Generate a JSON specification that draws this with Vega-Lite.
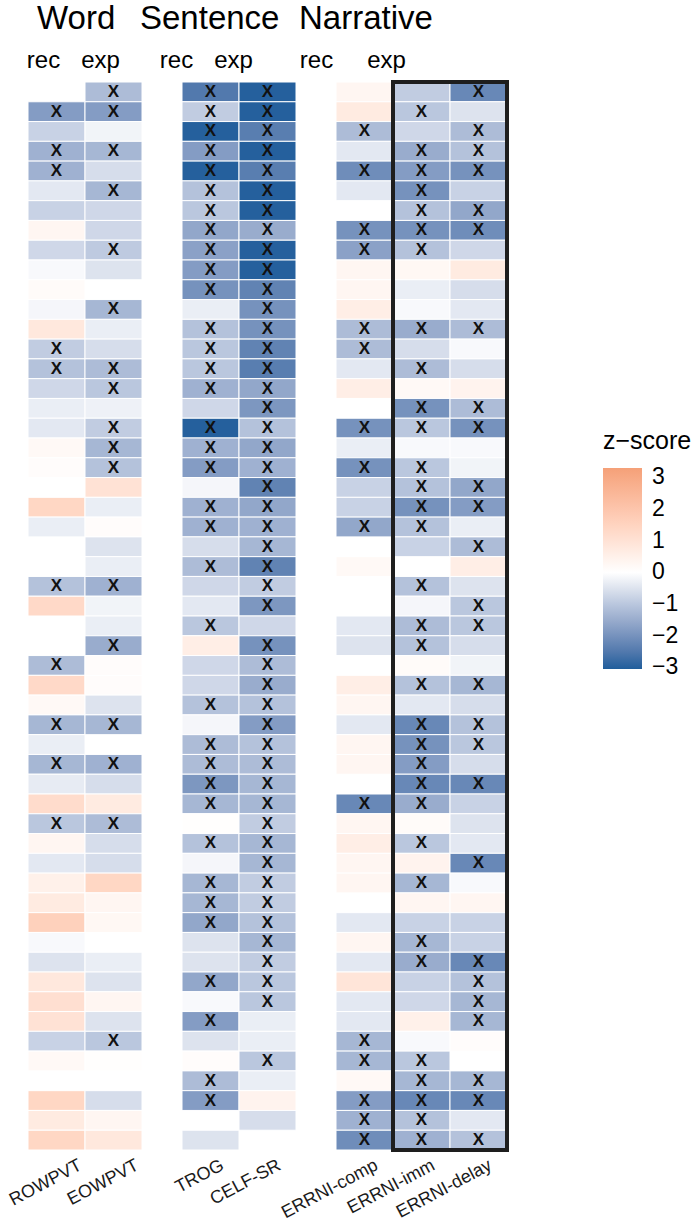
{
  "$schema": "https://vega.github.io/schema/vega-lite/v6.json",
  "background": "white",
  "padding": {"left": 6, "top": 3, "right": 0, "bottom": 0},
  "bounds": "flush",
  "config": {
    "view": {"stroke": null},
    "font": "Liberation Sans",
    "concat": {"spacing": 40}
  },
  "datasets": {
    "box": [{"from": "ERRNI-imm", "to": "ERRNI-delay"}],
    "cells": [
      {"id":1,"test":"EOWPVT","z":-1.2,"sig":1},{"id":1,"test":"TROG","z":-2.5,"sig":1},{"id":1,"test":"CELF-SR","z":-3.0,"sig":1},{"id":1,"test":"ERRNI-comp","z":0.3,"sig":0},{"id":1,"test":"ERRNI-imm","z":-0.9,"sig":0},{"id":1,"test":"ERRNI-delay","z":-2.2,"sig":1},
      {"id":2,"test":"ROWPVT","z":-1.8,"sig":1},{"id":2,"test":"EOWPVT","z":-1.8,"sig":1},{"id":2,"test":"TROG","z":-0.9,"sig":1},{"id":2,"test":"CELF-SR","z":-3.0,"sig":1},{"id":2,"test":"ERRNI-comp","z":0.7,"sig":0},{"id":2,"test":"ERRNI-imm","z":-1.0,"sig":1},{"id":2,"test":"ERRNI-delay","z":-0.5,"sig":0},
      {"id":3,"test":"ROWPVT","z":-0.8,"sig":0},{"id":3,"test":"EOWPVT","z":-0.2,"sig":0},{"id":3,"test":"TROG","z":-3.0,"sig":1},{"id":3,"test":"CELF-SR","z":-2.4,"sig":1},{"id":3,"test":"ERRNI-comp","z":-1.2,"sig":1},{"id":3,"test":"ERRNI-imm","z":-0.7,"sig":0},{"id":3,"test":"ERRNI-delay","z":-1.2,"sig":1},
      {"id":4,"test":"ROWPVT","z":-1.4,"sig":1},{"id":4,"test":"EOWPVT","z":-1.3,"sig":1},{"id":4,"test":"TROG","z":-1.8,"sig":1},{"id":4,"test":"CELF-SR","z":-3.0,"sig":1},{"id":4,"test":"ERRNI-comp","z":-0.4,"sig":0},{"id":4,"test":"ERRNI-imm","z":-1.5,"sig":1},{"id":4,"test":"ERRNI-delay","z":-1.1,"sig":1},
      {"id":5,"test":"ROWPVT","z":-1.4,"sig":1},{"id":5,"test":"EOWPVT","z":-0.6,"sig":0},{"id":5,"test":"TROG","z":-3.0,"sig":1},{"id":5,"test":"CELF-SR","z":-2.4,"sig":1},{"id":5,"test":"ERRNI-comp","z":-2.1,"sig":1},{"id":5,"test":"ERRNI-imm","z":-1.8,"sig":1},{"id":5,"test":"ERRNI-delay","z":-2.0,"sig":1},
      {"id":6,"test":"ROWPVT","z":-0.4,"sig":0},{"id":6,"test":"EOWPVT","z":-1.3,"sig":1},{"id":6,"test":"TROG","z":-1.1,"sig":1},{"id":6,"test":"CELF-SR","z":-3.0,"sig":1},{"id":6,"test":"ERRNI-comp","z":-0.4,"sig":0},{"id":6,"test":"ERRNI-imm","z":-2.0,"sig":1},{"id":6,"test":"ERRNI-delay","z":-0.8,"sig":0},
      {"id":7,"test":"ROWPVT","z":-0.8,"sig":0},{"id":7,"test":"EOWPVT","z":-0.7,"sig":0},{"id":7,"test":"TROG","z":-1.0,"sig":1},{"id":7,"test":"CELF-SR","z":-3.0,"sig":1},{"id":7,"test":"ERRNI-imm","z":-1.1,"sig":1},{"id":7,"test":"ERRNI-delay","z":-1.6,"sig":1},
      {"id":8,"test":"ROWPVT","z":0.3,"sig":0},{"id":8,"test":"EOWPVT","z":-0.7,"sig":0},{"id":8,"test":"TROG","z":-1.6,"sig":1},{"id":8,"test":"CELF-SR","z":-1.5,"sig":1},{"id":8,"test":"ERRNI-comp","z":-2.0,"sig":1},{"id":8,"test":"ERRNI-imm","z":-2.0,"sig":1},{"id":8,"test":"ERRNI-delay","z":-2.1,"sig":1},
      {"id":9,"test":"ROWPVT","z":-0.7,"sig":0},{"id":9,"test":"EOWPVT","z":-0.95,"sig":1},{"id":9,"test":"TROG","z":-1.7,"sig":1},{"id":9,"test":"CELF-SR","z":-3.0,"sig":1},{"id":9,"test":"ERRNI-comp","z":-1.7,"sig":1},{"id":9,"test":"ERRNI-imm","z":-1.1,"sig":1},{"id":9,"test":"ERRNI-delay","z":-0.7,"sig":0},
      {"id":10,"test":"ROWPVT","z":-0.1,"sig":0},{"id":10,"test":"EOWPVT","z":-0.5,"sig":0},{"id":10,"test":"TROG","z":-1.8,"sig":1},{"id":10,"test":"CELF-SR","z":-3.0,"sig":1},{"id":10,"test":"ERRNI-comp","z":0.3,"sig":0},{"id":10,"test":"ERRNI-imm","z":0.25,"sig":0},{"id":10,"test":"ERRNI-delay","z":0.7,"sig":0},
      {"id":11,"test":"ROWPVT","z":0.15,"sig":0},{"id":11,"test":"TROG","z":-2.0,"sig":1},{"id":11,"test":"CELF-SR","z":-2.3,"sig":1},{"id":11,"test":"ERRNI-comp","z":0.3,"sig":0},{"id":11,"test":"ERRNI-imm","z":-0.3,"sig":0},{"id":11,"test":"ERRNI-delay","z":-0.6,"sig":0},
      {"id":12,"test":"ROWPVT","z":-0.15,"sig":0},{"id":12,"test":"EOWPVT","z":-1.3,"sig":1},{"id":12,"test":"TROG","z":-0.3,"sig":0},{"id":12,"test":"CELF-SR","z":-2.0,"sig":1},{"id":12,"test":"ERRNI-comp","z":0.6,"sig":0},{"id":12,"test":"ERRNI-imm","z":-0.1,"sig":0},{"id":12,"test":"ERRNI-delay","z":-0.4,"sig":0},
      {"id":13,"test":"ROWPVT","z":0.8,"sig":0},{"id":13,"test":"EOWPVT","z":-0.3,"sig":0},{"id":13,"test":"TROG","z":-1.1,"sig":1},{"id":13,"test":"CELF-SR","z":-2.0,"sig":1},{"id":13,"test":"ERRNI-comp","z":-1.2,"sig":1},{"id":13,"test":"ERRNI-imm","z":-1.5,"sig":1},{"id":13,"test":"ERRNI-delay","z":-1.2,"sig":1},
      {"id":14,"test":"ROWPVT","z":-0.9,"sig":1},{"id":14,"test":"EOWPVT","z":-0.6,"sig":0},{"id":14,"test":"TROG","z":-1.0,"sig":1},{"id":14,"test":"CELF-SR","z":-2.3,"sig":1},{"id":14,"test":"ERRNI-comp","z":-1.2,"sig":1},{"id":14,"test":"ERRNI-imm","z":-0.6,"sig":0},{"id":14,"test":"ERRNI-delay","z":-0.1,"sig":0},
      {"id":15,"test":"ROWPVT","z":-1.1,"sig":1},{"id":15,"test":"EOWPVT","z":-1.2,"sig":1},{"id":15,"test":"TROG","z":-1.0,"sig":1},{"id":15,"test":"CELF-SR","z":-2.4,"sig":1},{"id":15,"test":"ERRNI-comp","z":-0.4,"sig":0},{"id":15,"test":"ERRNI-imm","z":-1.2,"sig":1},{"id":15,"test":"ERRNI-delay","z":-0.6,"sig":0},
      {"id":16,"test":"ROWPVT","z":-0.7,"sig":0},{"id":16,"test":"EOWPVT","z":-1.0,"sig":1},{"id":16,"test":"TROG","z":-1.4,"sig":1},{"id":16,"test":"CELF-SR","z":-1.6,"sig":1},{"id":16,"test":"ERRNI-comp","z":0.6,"sig":0},{"id":16,"test":"ERRNI-imm","z":0.2,"sig":0},{"id":16,"test":"ERRNI-delay","z":0.4,"sig":0},
      {"id":17,"test":"ROWPVT","z":-0.3,"sig":0},{"id":17,"test":"EOWPVT","z":-0.25,"sig":0},{"id":17,"test":"TROG","z":-0.7,"sig":0},{"id":17,"test":"CELF-SR","z":-1.9,"sig":1},{"id":17,"test":"ERRNI-imm","z":-2.0,"sig":1},{"id":17,"test":"ERRNI-delay","z":-1.2,"sig":1},
      {"id":18,"test":"ROWPVT","z":-0.4,"sig":0},{"id":18,"test":"EOWPVT","z":-0.9,"sig":1},{"id":18,"test":"TROG","z":-3.0,"sig":1},{"id":18,"test":"CELF-SR","z":-1.1,"sig":1},{"id":18,"test":"ERRNI-comp","z":-2.0,"sig":1},{"id":18,"test":"ERRNI-imm","z":-1.0,"sig":1},{"id":18,"test":"ERRNI-delay","z":-2.0,"sig":1},
      {"id":19,"test":"ROWPVT","z":0.2,"sig":0},{"id":19,"test":"EOWPVT","z":-1.3,"sig":1},{"id":19,"test":"TROG","z":-1.4,"sig":1},{"id":19,"test":"CELF-SR","z":-1.6,"sig":1},{"id":19,"test":"ERRNI-comp","z":-0.3,"sig":0},{"id":19,"test":"ERRNI-imm","z":-0.1,"sig":0},{"id":19,"test":"ERRNI-delay","z":-0.1,"sig":0},
      {"id":20,"test":"ROWPVT","z":0.1,"sig":0},{"id":20,"test":"EOWPVT","z":-1.1,"sig":1},{"id":20,"test":"TROG","z":-1.8,"sig":1},{"id":20,"test":"CELF-SR","z":-1.4,"sig":1},{"id":20,"test":"ERRNI-comp","z":-2.0,"sig":1},{"id":20,"test":"ERRNI-imm","z":-1.0,"sig":1},{"id":20,"test":"ERRNI-delay","z":-0.2,"sig":0},
      {"id":21,"test":"EOWPVT","z":1.0,"sig":0},{"id":21,"test":"TROG","z":-0.15,"sig":0},{"id":21,"test":"CELF-SR","z":-2.3,"sig":1},{"id":21,"test":"ERRNI-comp","z":-0.8,"sig":0},{"id":21,"test":"ERRNI-imm","z":-1.1,"sig":1},{"id":21,"test":"ERRNI-delay","z":-1.6,"sig":1},
      {"id":22,"test":"ROWPVT","z":1.4,"sig":0},{"id":22,"test":"EOWPVT","z":-0.3,"sig":0},{"id":22,"test":"TROG","z":-1.4,"sig":1},{"id":22,"test":"CELF-SR","z":-1.6,"sig":1},{"id":22,"test":"ERRNI-comp","z":-0.8,"sig":0},{"id":22,"test":"ERRNI-imm","z":-2.0,"sig":1},{"id":22,"test":"ERRNI-delay","z":-1.8,"sig":1},
      {"id":23,"test":"ROWPVT","z":-0.3,"sig":0},{"id":23,"test":"EOWPVT","z":0.1,"sig":0},{"id":23,"test":"TROG","z":-1.4,"sig":1},{"id":23,"test":"CELF-SR","z":-1.4,"sig":1},{"id":23,"test":"ERRNI-comp","z":-1.6,"sig":1},{"id":23,"test":"ERRNI-imm","z":-1.1,"sig":1},{"id":23,"test":"ERRNI-delay","z":-0.3,"sig":0},
      {"id":24,"test":"EOWPVT","z":-0.5,"sig":0},{"id":24,"test":"TROG","z":-0.6,"sig":0},{"id":24,"test":"CELF-SR","z":-1.3,"sig":1},{"id":24,"test":"ERRNI-imm","z":-0.8,"sig":0},{"id":24,"test":"ERRNI-delay","z":-1.2,"sig":1},
      {"id":25,"test":"EOWPVT","z":-0.3,"sig":0},{"id":25,"test":"TROG","z":-1.2,"sig":1},{"id":25,"test":"CELF-SR","z":-2.3,"sig":1},{"id":25,"test":"ERRNI-comp","z":0.2,"sig":0},{"id":25,"test":"ERRNI-delay","z":0.6,"sig":0},
      {"id":26,"test":"ROWPVT","z":-1.1,"sig":1},{"id":26,"test":"EOWPVT","z":-1.4,"sig":1},{"id":26,"test":"TROG","z":-0.7,"sig":0},{"id":26,"test":"CELF-SR","z":-0.9,"sig":1},{"id":26,"test":"ERRNI-imm","z":-1.1,"sig":1},{"id":26,"test":"ERRNI-delay","z":-0.5,"sig":0},
      {"id":27,"test":"ROWPVT","z":1.3,"sig":0},{"id":27,"test":"EOWPVT","z":-0.2,"sig":0},{"id":27,"test":"TROG","z":-0.4,"sig":0},{"id":27,"test":"CELF-SR","z":-1.9,"sig":1},{"id":27,"test":"ERRNI-imm","z":-0.15,"sig":0},{"id":27,"test":"ERRNI-delay","z":-1.0,"sig":1},
      {"id":28,"test":"EOWPVT","z":-0.3,"sig":0},{"id":28,"test":"TROG","z":-1.0,"sig":1},{"id":28,"test":"CELF-SR","z":-0.7,"sig":0},{"id":28,"test":"ERRNI-comp","z":-0.4,"sig":0},{"id":28,"test":"ERRNI-imm","z":-1.2,"sig":1},{"id":28,"test":"ERRNI-delay","z":-1.0,"sig":1},
      {"id":29,"test":"EOWPVT","z":-1.5,"sig":1},{"id":29,"test":"TROG","z":0.6,"sig":0},{"id":29,"test":"CELF-SR","z":-2.0,"sig":1},{"id":29,"test":"ERRNI-comp","z":-0.5,"sig":0},{"id":29,"test":"ERRNI-imm","z":-1.1,"sig":1},{"id":29,"test":"ERRNI-delay","z":-0.6,"sig":0},
      {"id":30,"test":"ROWPVT","z":-1.2,"sig":1},{"id":30,"test":"EOWPVT","z":0.1,"sig":0},{"id":30,"test":"TROG","z":-0.7,"sig":0},{"id":30,"test":"CELF-SR","z":-1.2,"sig":1},{"id":30,"test":"ERRNI-imm","z":0.15,"sig":0},{"id":30,"test":"ERRNI-delay","z":-0.2,"sig":0},
      {"id":31,"test":"ROWPVT","z":1.3,"sig":0},{"id":31,"test":"EOWPVT","z":0.1,"sig":0},{"id":31,"test":"TROG","z":-0.7,"sig":0},{"id":31,"test":"CELF-SR","z":-1.5,"sig":1},{"id":31,"test":"ERRNI-comp","z":0.6,"sig":0},{"id":31,"test":"ERRNI-imm","z":-1.1,"sig":1},{"id":31,"test":"ERRNI-delay","z":-1.3,"sig":1},
      {"id":32,"test":"ROWPVT","z":0.2,"sig":0},{"id":32,"test":"EOWPVT","z":-0.5,"sig":0},{"id":32,"test":"TROG","z":-1.1,"sig":1},{"id":32,"test":"CELF-SR","z":-1.1,"sig":1},{"id":32,"test":"ERRNI-comp","z":0.3,"sig":0},{"id":32,"test":"ERRNI-imm","z":-0.4,"sig":0},{"id":32,"test":"ERRNI-delay","z":-0.6,"sig":0},
      {"id":33,"test":"ROWPVT","z":-1.3,"sig":1},{"id":33,"test":"EOWPVT","z":-1.3,"sig":1},{"id":33,"test":"TROG","z":-0.15,"sig":0},{"id":33,"test":"CELF-SR","z":-1.8,"sig":1},{"id":33,"test":"ERRNI-comp","z":-0.4,"sig":0},{"id":33,"test":"ERRNI-imm","z":-2.2,"sig":1},{"id":33,"test":"ERRNI-delay","z":-1.1,"sig":1},
      {"id":34,"test":"ROWPVT","z":-0.3,"sig":0},{"id":34,"test":"TROG","z":-1.2,"sig":1},{"id":34,"test":"CELF-SR","z":-1.1,"sig":1},{"id":34,"test":"ERRNI-comp","z":0.3,"sig":0},{"id":34,"test":"ERRNI-imm","z":-2.0,"sig":1},{"id":34,"test":"ERRNI-delay","z":-1.0,"sig":1},
      {"id":35,"test":"ROWPVT","z":-1.3,"sig":1},{"id":35,"test":"EOWPVT","z":-1.4,"sig":1},{"id":35,"test":"TROG","z":-1.2,"sig":1},{"id":35,"test":"CELF-SR","z":-1.2,"sig":1},{"id":35,"test":"ERRNI-comp","z":0.3,"sig":0},{"id":35,"test":"ERRNI-imm","z":-1.8,"sig":1},{"id":35,"test":"ERRNI-delay","z":-0.6,"sig":0},
      {"id":36,"test":"ROWPVT","z":-0.35,"sig":0},{"id":36,"test":"EOWPVT","z":-0.6,"sig":0},{"id":36,"test":"TROG","z":-1.9,"sig":1},{"id":36,"test":"CELF-SR","z":-1.3,"sig":1},{"id":36,"test":"ERRNI-imm","z":-2.2,"sig":1},{"id":36,"test":"ERRNI-delay","z":-2.2,"sig":1},
      {"id":37,"test":"ROWPVT","z":1.2,"sig":0},{"id":37,"test":"EOWPVT","z":0.7,"sig":0},{"id":37,"test":"TROG","z":-1.3,"sig":1},{"id":37,"test":"CELF-SR","z":-1.3,"sig":1},{"id":37,"test":"ERRNI-comp","z":-2.2,"sig":1},{"id":37,"test":"ERRNI-imm","z":-1.5,"sig":1},{"id":37,"test":"ERRNI-delay","z":-0.8,"sig":0},
      {"id":38,"test":"ROWPVT","z":-1.0,"sig":1},{"id":38,"test":"EOWPVT","z":-1.2,"sig":1},{"id":38,"test":"TROG","z":0.05,"sig":0},{"id":38,"test":"CELF-SR","z":-0.9,"sig":1},{"id":38,"test":"ERRNI-comp","z":0.3,"sig":0},{"id":38,"test":"ERRNI-imm","z":0.15,"sig":0},{"id":38,"test":"ERRNI-delay","z":-0.5,"sig":0},
      {"id":39,"test":"ROWPVT","z":0.3,"sig":0},{"id":39,"test":"EOWPVT","z":-0.6,"sig":0},{"id":39,"test":"TROG","z":-1.1,"sig":1},{"id":39,"test":"CELF-SR","z":-1.3,"sig":1},{"id":39,"test":"ERRNI-comp","z":0.6,"sig":0},{"id":39,"test":"ERRNI-imm","z":-1.0,"sig":1},{"id":39,"test":"ERRNI-delay","z":-0.4,"sig":0},
      {"id":40,"test":"ROWPVT","z":-0.4,"sig":0},{"id":40,"test":"EOWPVT","z":-0.6,"sig":0},{"id":40,"test":"TROG","z":-0.15,"sig":0},{"id":40,"test":"CELF-SR","z":-1.3,"sig":1},{"id":40,"test":"ERRNI-comp","z":0.3,"sig":0},{"id":40,"test":"ERRNI-imm","z":0.4,"sig":0},{"id":40,"test":"ERRNI-delay","z":-2.2,"sig":1},
      {"id":41,"test":"ROWPVT","z":0.5,"sig":0},{"id":41,"test":"EOWPVT","z":1.4,"sig":0},{"id":41,"test":"TROG","z":-1.3,"sig":1},{"id":41,"test":"CELF-SR","z":-0.9,"sig":1},{"id":41,"test":"ERRNI-comp","z":0.3,"sig":0},{"id":41,"test":"ERRNI-imm","z":-1.3,"sig":1},{"id":41,"test":"ERRNI-delay","z":-0.1,"sig":0},
      {"id":42,"test":"ROWPVT","z":0.7,"sig":0},{"id":42,"test":"EOWPVT","z":0.3,"sig":0},{"id":42,"test":"TROG","z":-1.3,"sig":1},{"id":42,"test":"CELF-SR","z":-0.9,"sig":1},{"id":42,"test":"ERRNI-imm","z":0.3,"sig":0},{"id":42,"test":"ERRNI-delay","z":0.3,"sig":0},
      {"id":43,"test":"ROWPVT","z":1.6,"sig":0},{"id":43,"test":"EOWPVT","z":0.25,"sig":0},{"id":43,"test":"TROG","z":-1.6,"sig":1},{"id":43,"test":"CELF-SR","z":-1.1,"sig":1},{"id":43,"test":"ERRNI-comp","z":-0.4,"sig":0},{"id":43,"test":"ERRNI-imm","z":-0.8,"sig":0},{"id":43,"test":"ERRNI-delay","z":-0.8,"sig":0},
      {"id":44,"test":"ROWPVT","z":-0.1,"sig":0},{"id":44,"test":"TROG","z":-0.5,"sig":0},{"id":44,"test":"CELF-SR","z":-1.3,"sig":1},{"id":44,"test":"ERRNI-comp","z":0.3,"sig":0},{"id":44,"test":"ERRNI-imm","z":-1.3,"sig":1},{"id":44,"test":"ERRNI-delay","z":-0.8,"sig":0},
      {"id":45,"test":"ROWPVT","z":-0.5,"sig":0},{"id":45,"test":"EOWPVT","z":-0.3,"sig":0},{"id":45,"test":"TROG","z":-0.5,"sig":0},{"id":45,"test":"CELF-SR","z":-0.9,"sig":1},{"id":45,"test":"ERRNI-comp","z":-0.4,"sig":0},{"id":45,"test":"ERRNI-imm","z":-1.5,"sig":1},{"id":45,"test":"ERRNI-delay","z":-2.2,"sig":1},
      {"id":46,"test":"ROWPVT","z":0.8,"sig":0},{"id":46,"test":"EOWPVT","z":-0.5,"sig":0},{"id":46,"test":"TROG","z":-1.6,"sig":1},{"id":46,"test":"CELF-SR","z":-1.0,"sig":1},{"id":46,"test":"ERRNI-comp","z":0.9,"sig":0},{"id":46,"test":"ERRNI-imm","z":-0.8,"sig":0},{"id":46,"test":"ERRNI-delay","z":-1.1,"sig":1},
      {"id":47,"test":"ROWPVT","z":1.1,"sig":0},{"id":47,"test":"EOWPVT","z":0.3,"sig":0},{"id":47,"test":"TROG","z":-0.1,"sig":0},{"id":47,"test":"CELF-SR","z":-1.0,"sig":1},{"id":47,"test":"ERRNI-comp","z":-0.4,"sig":0},{"id":47,"test":"ERRNI-imm","z":-0.7,"sig":0},{"id":47,"test":"ERRNI-delay","z":-1.3,"sig":1},
      {"id":48,"test":"ROWPVT","z":1.0,"sig":0},{"id":48,"test":"EOWPVT","z":-0.5,"sig":0},{"id":48,"test":"TROG","z":-1.8,"sig":1},{"id":48,"test":"CELF-SR","z":-0.3,"sig":0},{"id":48,"test":"ERRNI-comp","z":-0.4,"sig":0},{"id":48,"test":"ERRNI-imm","z":0.5,"sig":0},{"id":48,"test":"ERRNI-delay","z":-1.3,"sig":1},
      {"id":49,"test":"ROWPVT","z":-0.8,"sig":0},{"id":49,"test":"EOWPVT","z":-1.0,"sig":1},{"id":49,"test":"TROG","z":-0.5,"sig":0},{"id":49,"test":"CELF-SR","z":-0.3,"sig":0},{"id":49,"test":"ERRNI-comp","z":-1.3,"sig":1},{"id":49,"test":"ERRNI-imm","z":-0.1,"sig":0},{"id":49,"test":"ERRNI-delay","z":0.1,"sig":0},
      {"id":50,"test":"ROWPVT","z":0.2,"sig":0},{"id":50,"test":"EOWPVT","z":0.05,"sig":0},{"id":50,"test":"TROG","z":0.1,"sig":0},{"id":50,"test":"CELF-SR","z":-1.0,"sig":1},{"id":50,"test":"ERRNI-comp","z":-1.3,"sig":1},{"id":50,"test":"ERRNI-imm","z":-1.0,"sig":1},
      {"id":51,"test":"TROG","z":-1.2,"sig":1},{"id":51,"test":"CELF-SR","z":-0.3,"sig":0},{"id":51,"test":"ERRNI-comp","z":0.2,"sig":0},{"id":51,"test":"ERRNI-imm","z":-1.3,"sig":1},{"id":51,"test":"ERRNI-delay","z":-1.3,"sig":1},
      {"id":52,"test":"ROWPVT","z":1.4,"sig":0},{"id":52,"test":"EOWPVT","z":-0.6,"sig":0},{"id":52,"test":"TROG","z":-1.8,"sig":1},{"id":52,"test":"CELF-SR","z":0.4,"sig":0},{"id":52,"test":"ERRNI-comp","z":-1.8,"sig":1},{"id":52,"test":"ERRNI-imm","z":-2.2,"sig":1},{"id":52,"test":"ERRNI-delay","z":-2.2,"sig":1},
      {"id":53,"test":"ROWPVT","z":0.7,"sig":0},{"id":53,"test":"EOWPVT","z":0.3,"sig":0},{"id":53,"test":"CELF-SR","z":-0.6,"sig":0},{"id":53,"test":"ERRNI-comp","z":-1.4,"sig":1},{"id":53,"test":"ERRNI-imm","z":-1.1,"sig":1},{"id":53,"test":"ERRNI-delay","z":-0.4,"sig":0},
      {"id":54,"test":"ROWPVT","z":1.4,"sig":0},{"id":54,"test":"EOWPVT","z":0.8,"sig":0},{"id":54,"test":"TROG","z":-0.5,"sig":0},{"id":54,"test":"ERRNI-comp","z":-2.1,"sig":1},{"id":54,"test":"ERRNI-imm","z":-1.4,"sig":1},{"id":54,"test":"ERRNI-delay","z":-1.1,"sig":1}
    ]
  },
  "hconcat": [
    {
      "width": 114,
      "height": 1068,
      "title": {"text": "Word", "anchor": "start", "frame": "group", "dx": 9, "offset": 12, "fontSize": 33, "fontWeight": "normal", "color": "black"},
      "layer": [
        {
          "data": {"name": "cells"},
          "transform": [{"filter": {"field": "test", "oneOf": ["ROWPVT", "EOWPVT"]}}],
          "mark": {"type": "rect", "stroke": "white", "strokeWidth": 1},
          "encoding": {
            "x": {"field": "test", "type": "nominal", "scale": {"domain": ["ROWPVT", "EOWPVT"], "paddingInner": 0, "paddingOuter": 0},
                  "axis": {"orient": "bottom", "title": null, "ticks": false, "domain": false, "labelAngle": -28, "labelAlign": "right", "labelBaseline": "top", "labelOffset": 20, "labelPadding": 6, "labelFontSize": 18, "labelColor": "#1a1a1a", "labelOverlap": false}},
            "y": {"field": "id", "type": "ordinal", "axis": null, "scale": {"domain": [1,2,3,4,5,6,7,8,9,10,11,12,13,14,15,16,17,18,19,20,21,22,23,24,25,26,27,28,29,30,31,32,33,34,35,36,37,38,39,40,41,42,43,44,45,46,47,48,49,50,51,52,53,54], "paddingInner": 0, "paddingOuter": 0}},
            "color": {"field": "z", "type": "quantitative",
                      "scale": {"domain": [-3.05, 0, 3.3], "range": ["#1f5e9b", "#ffffff", "#f5a078"], "interpolate": "lab", "clamp": true},
                      "legend": {"title": "z−score", "orient": "none", "legendX": 575, "legendY": 347, "direction": "vertical", "gradientLength": 201, "gradientThickness": 39, "values": [-3, -2, -1, 0, 1, 2, 3], "labelOverlap": false, "titleFontSize": 25, "titleFontWeight": "normal", "titleColor": "black", "titlePadding": 14, "labelFontSize": 23, "labelColor": "black", "labelOffset": 10}}
          }
        },
        {
          "data": {"name": "cells"},
          "transform": [{"filter": {"field": "test", "oneOf": ["ROWPVT", "EOWPVT"]}}, {"filter": "datum.sig == 1"}],
          "mark": {"type": "text", "text": "X", "fontSize": 17, "fontWeight": "bold", "color": "#111111", "align": "center", "baseline": "middle"},
          "encoding": {
            "x": {"field": "test", "type": "nominal", "scale": {"domain": ["ROWPVT", "EOWPVT"]},
                  "axis": {"orient": "top", "title": null, "ticks": false, "domain": false, "labelAngle": 0, "labelExpr": "datum.value == 'ROWPVT' ? 'rec' : 'exp'", "labelOffset": -13, "labelPadding": 15, "labelBaseline": "alphabetic", "labelFontSize": 24, "labelColor": "black", "labelOverlap": false}},
            "y": {"field": "id", "type": "ordinal", "axis": null}
          }
        }
      ],
      "resolve": {"axis": {"x": "independent"}}
    },
    {
      "width": 114,
      "height": 1068,
      "title": {"text": "Sentence", "anchor": "start", "frame": "group", "dx": -42, "offset": 12, "fontSize": 33, "fontWeight": "normal", "color": "black"},
      "layer": [
        {
          "data": {"name": "cells"},
          "transform": [{"filter": {"field": "test", "oneOf": ["TROG", "CELF-SR"]}}],
          "mark": {"type": "rect", "stroke": "white", "strokeWidth": 1},
          "encoding": {
            "x": {"field": "test", "type": "nominal", "scale": {"domain": ["TROG", "CELF-SR"], "paddingInner": 0, "paddingOuter": 0},
                  "axis": {"orient": "bottom", "title": null, "ticks": false, "domain": false, "labelAngle": -28, "labelAlign": "right", "labelBaseline": "top", "labelOffset": 8, "labelPadding": 6, "labelFontSize": 18, "labelColor": "#1a1a1a", "labelOverlap": false}},
            "y": {"field": "id", "type": "ordinal", "axis": null, "scale": {"domain": [1,2,3,4,5,6,7,8,9,10,11,12,13,14,15,16,17,18,19,20,21,22,23,24,25,26,27,28,29,30,31,32,33,34,35,36,37,38,39,40,41,42,43,44,45,46,47,48,49,50,51,52,53,54], "paddingInner": 0, "paddingOuter": 0}},
            "color": {"field": "z", "type": "quantitative",
                      "scale": {"domain": [-3.05, 0, 3.3], "range": ["#1f5e9b", "#ffffff", "#f5a078"], "interpolate": "lab", "clamp": true},
                      "legend": {"title": "z−score", "orient": "none", "legendX": 575, "legendY": 347, "direction": "vertical", "gradientLength": 201, "gradientThickness": 39, "values": [-3, -2, -1, 0, 1, 2, 3], "labelOverlap": false, "titleFontSize": 25, "titleFontWeight": "normal", "titleColor": "black", "titlePadding": 14, "labelFontSize": 23, "labelColor": "black", "labelOffset": 10}}
          }
        },
        {
          "data": {"name": "cells"},
          "transform": [{"filter": {"field": "test", "oneOf": ["TROG", "CELF-SR"]}}, {"filter": "datum.sig == 1"}],
          "mark": {"type": "text", "text": "X", "fontSize": 17, "fontWeight": "bold", "color": "#111111", "align": "center", "baseline": "middle"},
          "encoding": {
            "x": {"field": "test", "type": "nominal", "scale": {"domain": ["TROG", "CELF-SR"]},
                  "axis": {"orient": "top", "title": null, "ticks": false, "domain": false, "labelAngle": 0, "labelExpr": "datum.value == 'TROG' ? 'rec' : 'exp'", "labelOffset": -34, "labelPadding": 15, "labelBaseline": "alphabetic", "labelFontSize": 24, "labelColor": "black", "labelOverlap": false}},
            "y": {"field": "id", "type": "ordinal", "axis": null}
          }
        }
      ],
      "resolve": {"axis": {"x": "independent"}}
    },
    {
      "width": 171,
      "height": 1068,
      "title": {"text": "Narrative", "anchor": "start", "frame": "group", "dx": -37, "offset": 12, "fontSize": 33, "fontWeight": "normal", "color": "black"},
      "layer": [
        {
          "data": {"name": "cells"},
          "transform": [{"filter": {"field": "test", "oneOf": ["ERRNI-comp", "ERRNI-imm", "ERRNI-delay"]}}],
          "mark": {"type": "rect", "stroke": "white", "strokeWidth": 1},
          "encoding": {
            "x": {"field": "test", "type": "nominal", "scale": {"domain": ["ERRNI-comp", "ERRNI-imm", "ERRNI-delay"], "paddingInner": 0, "paddingOuter": 0},
                  "axis": {"orient": "bottom", "title": null, "ticks": false, "domain": false, "labelAngle": -28, "labelAlign": "right", "labelBaseline": "top", "labelOffset": 8, "labelPadding": 6, "labelFontSize": 18, "labelColor": "#1a1a1a", "labelOverlap": false}},
            "y": {"field": "id", "type": "ordinal", "axis": null, "scale": {"domain": [1,2,3,4,5,6,7,8,9,10,11,12,13,14,15,16,17,18,19,20,21,22,23,24,25,26,27,28,29,30,31,32,33,34,35,36,37,38,39,40,41,42,43,44,45,46,47,48,49,50,51,52,53,54], "paddingInner": 0, "paddingOuter": 0}},
            "color": {"field": "z", "type": "quantitative",
                      "scale": {"domain": [-3.05, 0, 3.3], "range": ["#1f5e9b", "#ffffff", "#f5a078"], "interpolate": "lab", "clamp": true},
                      "legend": {"title": "z−score", "orient": "none", "legendX": 575, "legendY": 347, "direction": "vertical", "gradientLength": 201, "gradientThickness": 39, "values": [-3, -2, -1, 0, 1, 2, 3], "labelOverlap": false, "titleFontSize": 25, "titleFontWeight": "normal", "titleColor": "black", "titlePadding": 14, "labelFontSize": 23, "labelColor": "black", "labelOffset": 10}}
          }
        },
        {
          "data": {"name": "cells"},
          "transform": [{"filter": {"field": "test", "oneOf": ["ERRNI-comp", "ERRNI-imm", "ERRNI-delay"]}}, {"filter": "datum.sig == 1"}],
          "mark": {"type": "text", "text": "X", "fontSize": 17, "fontWeight": "bold", "color": "#111111", "align": "center", "baseline": "middle"},
          "encoding": {
            "x": {"field": "test", "type": "nominal", "scale": {"domain": ["ERRNI-comp", "ERRNI-imm", "ERRNI-delay"]},
                  "axis": {"orient": "top", "title": null, "ticks": false, "domain": false, "labelAngle": 0, "labelExpr": "datum.value == 'ERRNI-comp' ? 'rec' : datum.value == 'ERRNI-imm' ? 'exp' : ''", "labelOffset": {"condition": {"test": "datum.value == 'ERRNI-imm'", "value": -35}, "value": -48}, "labelPadding": 15, "labelBaseline": "alphabetic", "labelFontSize": 24, "labelColor": "black", "labelOverlap": false}},
            "y": {"field": "id", "type": "ordinal", "axis": null}
          }
        },
        {
          "data": {"name": "box"},
          "mark": {"type": "rect", "fill": null, "fillOpacity": 0, "stroke": "#1e1e1e", "strokeWidth": 4},
          "encoding": {
            "x": {"field": "from", "type": "nominal", "bandPosition": 0, "scale": {"domain": ["ERRNI-comp", "ERRNI-imm", "ERRNI-delay"]}, "axis": null},
            "x2": {"field": "to", "bandPosition": 1}
          }
        }
      ],
      "resolve": {"axis": {"x": "independent"}}
    }
  ],
  "resolve": {"scale": {"color": "shared"}}
}
